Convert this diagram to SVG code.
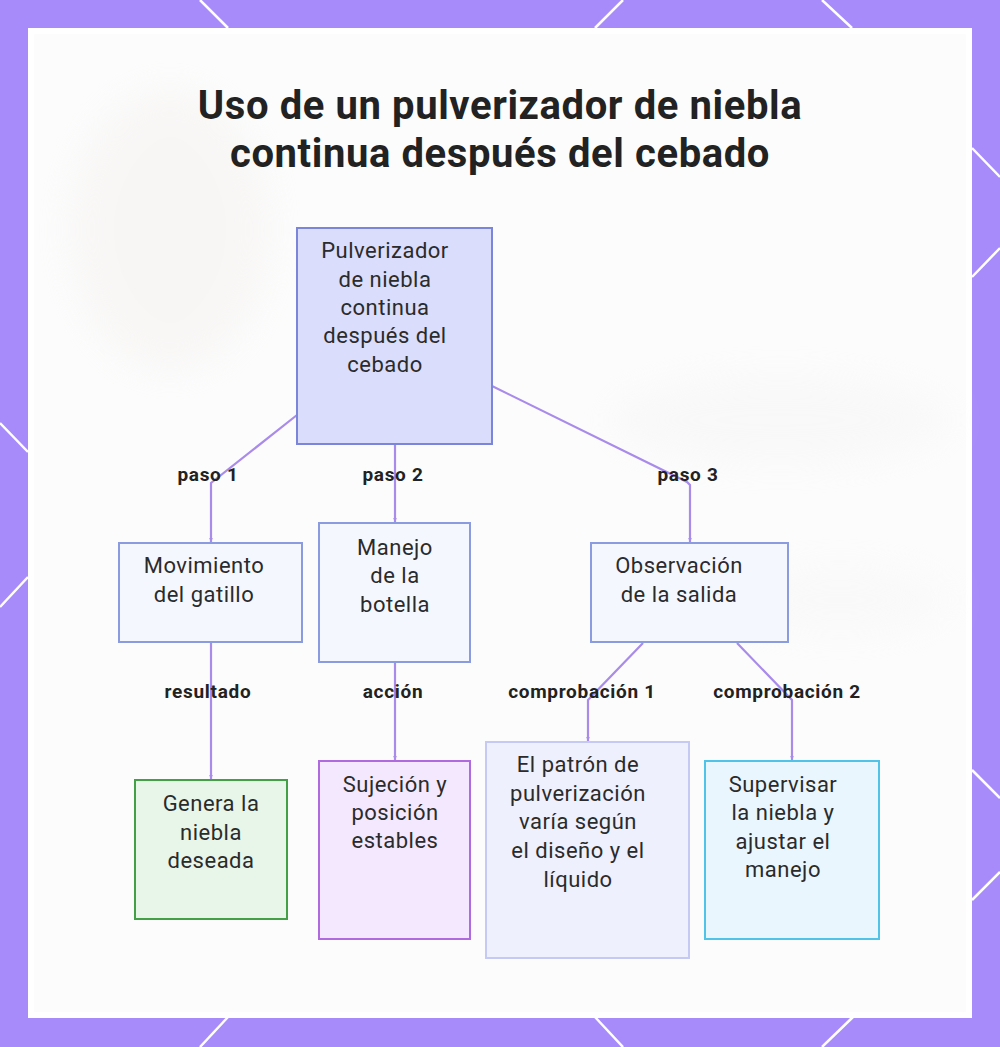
<svg xmlns="http://www.w3.org/2000/svg" width="1000" height="1047" viewBox="0 0 1000 1047">
<defs>
<style>
.node-text{font-family:Roboto,"Liberation Sans",sans-serif;font-size:22px;letter-spacing:0.5px;fill:#2b2b2b;text-anchor:middle}
.lbl{font-family:Roboto,"Liberation Sans",sans-serif;font-size:19px;letter-spacing:0.7px;font-weight:bold;fill:#222;text-anchor:middle}
.title{font-family:Roboto,"Liberation Sans",sans-serif;font-size:40px;letter-spacing:0.6px;font-weight:bold;fill:#222;text-anchor:middle}
.conn{fill:none;stroke:#A98BEA;stroke-width:2.2}
.deco{stroke:#ffffff;stroke-width:2.5}
</style>
<marker id="arr" viewBox="0 0 10 10" refX="9" refY="5" markerWidth="5" markerHeight="5" orient="auto" markerUnits="userSpaceOnUse">
<path d="M0,1 L10,5 L0,9 z" fill="#A98BEA"/>
</marker>
<filter id="blur" x="-50%" y="-50%" width="200%" height="200%"><feGaussianBlur stdDeviation="18"/></filter>
</defs>
<rect x="0" y="0" width="1000" height="1047" fill="#A78BFA"/>
<g class="deco">
<line x1="200" y1="0" x2="228" y2="28"/>
<line x1="623" y1="0" x2="595" y2="28"/>
<line x1="822" y1="0" x2="852" y2="28"/>
<line x1="0" y1="423" x2="28" y2="452"/>
<line x1="28" y1="577" x2="0" y2="607"/>
<line x1="972" y1="148" x2="1000" y2="177"/>
<line x1="972" y1="277" x2="1000" y2="248"/>
<line x1="972" y1="770" x2="1000" y2="798"/>
<line x1="972" y1="900" x2="1000" y2="872"/>
<line x1="228" y1="1017" x2="200" y2="1047"/>
<line x1="595" y1="1017" x2="623" y2="1047"/>
<line x1="853" y1="1017" x2="822" y2="1047"/>
</g>
<rect x="28" y="28" width="944" height="990" fill="#ffffff"/>
<rect x="34" y="34" width="932" height="978" fill="#FCFCFC"/>
<g filter="url(#blur)" opacity="0.35">
<ellipse cx="170" cy="230" rx="100" ry="140" fill="#F1EDEA"/>
<ellipse cx="780" cy="420" rx="170" ry="45" fill="#F2F2F2"/>
<ellipse cx="840" cy="600" rx="110" ry="35" fill="#F4F4F4"/>
</g>
<text class="title" x="500" y="119">Uso de un pulverizador de niebla</text>
<text class="title" x="500" y="167">continua después del cebado</text>
<g id="connectors">
<polyline class="conn" points="297,415 211,483 211,542" marker-end="url(#arr)"/>
<polyline class="conn" points="395,444 395,522" marker-end="url(#arr)"/>
<polyline class="conn" points="492,386 687,482 690,485 690,542" marker-end="url(#arr)"/>
<polyline class="conn" points="211,642 211,779" marker-end="url(#arr)"/>
<polyline class="conn" points="395,662 395,760" marker-end="url(#arr)"/>
<polyline class="conn" points="643,643 588,700 588,741" marker-end="url(#arr)"/>
<polyline class="conn" points="737,643 792,700 792,760" marker-end="url(#arr)"/>
<text class="lbl" x="208" y="481">paso 1</text>
<text class="lbl" x="393" y="481">paso 2</text>
<text class="lbl" x="688" y="481">paso 3</text>
<text class="lbl" x="208" y="698">resultado</text>
<text class="lbl" x="393" y="698">acción</text>
<text class="lbl" x="582" y="698">comprobación 1</text>
<text class="lbl" x="787" y="698">comprobación 2</text>
</g>
<g id="node-root">
<rect x="297" y="228" width="195" height="216" fill="#DADDFB" stroke="#7B86DB" stroke-width="2"/>
<text class="node-text"><tspan x="385" y="258">Pulverizador</tspan><tspan x="385" y="287">de niebla</tspan><tspan x="385" y="315">continua</tspan><tspan x="385" y="343">después del</tspan><tspan x="385" y="372">cebado</tspan></text>
</g>
<g id="node-gatillo">
<rect x="119" y="543" width="183" height="99" fill="#F5F7FF" stroke="#8A9BE0" stroke-width="2"/>
<text class="node-text"><tspan x="204" y="573">Movimiento</tspan><tspan x="204" y="602">del gatillo</tspan></text>
</g>
<g id="node-botella">
<rect x="319" y="523" width="151" height="139" fill="#F5F7FF" stroke="#8A9BE0" stroke-width="2"/>
<text class="node-text"><tspan x="395" y="555">Manejo</tspan><tspan x="395" y="583">de la</tspan><tspan x="395" y="612">botella</tspan></text>
</g>
<g id="node-salida">
<rect x="591" y="543" width="197" height="99" fill="#F5F7FF" stroke="#8A9BE0" stroke-width="2"/>
<text class="node-text"><tspan x="679" y="573">Observación</tspan><tspan x="679" y="602">de la salida</tspan></text>
</g>
<g id="node-genera">
<rect x="135" y="780" width="152" height="139" fill="#E8F5E9" stroke="#43A047" stroke-width="2"/>
<text class="node-text"><tspan x="211" y="811">Genera la</tspan><tspan x="211" y="840">niebla</tspan><tspan x="211" y="868">deseada</tspan></text>
</g>
<g id="node-sujecion">
<rect x="319" y="761" width="151" height="178" fill="#F3E8FD" stroke="#B06AE0" stroke-width="2"/>
<text class="node-text"><tspan x="395" y="792">Sujeción y</tspan><tspan x="395" y="820">posición</tspan><tspan x="395" y="848">estables</tspan></text>
</g>
<g id="node-patron">
<rect x="486" y="742" width="203" height="216" fill="#EEF0FD" stroke="#C5CAF5" stroke-width="2"/>
<text class="node-text"><tspan x="578" y="772">El patrón de</tspan><tspan x="578" y="801">pulverización</tspan><tspan x="578" y="829">varía según</tspan><tspan x="578" y="858">el diseño y el</tspan><tspan x="578" y="887">líquido</tspan></text>
</g>
<g id="node-supervisar">
<rect x="705" y="761" width="174" height="178" fill="#EAF6FE" stroke="#4FC3E8" stroke-width="2"/>
<text class="node-text"><tspan x="783" y="792">Supervisar</tspan><tspan x="783" y="820">la niebla y</tspan><tspan x="783" y="849">ajustar el</tspan><tspan x="783" y="877">manejo</tspan></text>
</g>
</svg>
